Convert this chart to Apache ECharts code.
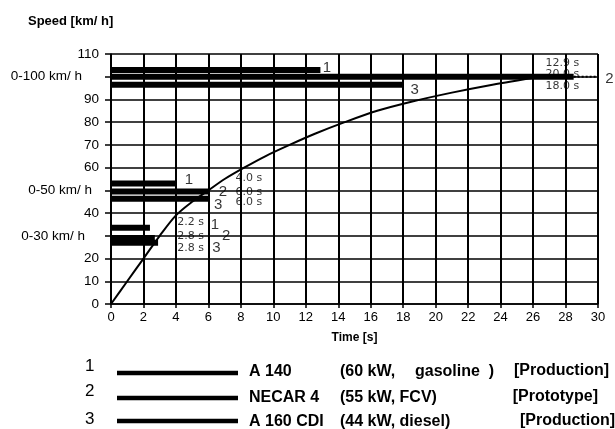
<!DOCTYPE html>
<html>
<head>
<meta charset="utf-8">
<script src="https://cdn.jsdelivr.net/npm/echarts@6/dist/echarts.min.js"></script>
<style>
  html, body { margin: 0; padding: 0; background: #fff; }
  #chart { width: 615px; height: 429px; }
</style>
</head>
<body>
<div id="chart"></div>
<script>
// axis labels that replace the plain numbers
const speedLabels = { 100: '0-100 km/ h', 50: '0-50 km/ h', 30: '0-30 km/ h' };

// NECAR 4 speed curve (time s / speed km/h)
const curveTime  = [0, 1.0, 2.0, 3.0, 4.0, 5.0, 6.0, 7.0, 8.2, 9.5, 11.0, 12.6, 14.4, 16.4, 18.5, 21.0, 23.5, 26.4];
const curveSpeed = [0, 10, 20, 30, 39, 45, 50, 55, 60, 65, 70, 75, 80, 85, 89, 93, 96.5, 100];

// vehicles 1,2,3
const carIds = ['1', '2', '3'];

// 0-100 bars
const bar100Level = [103, 100, 96.5];
const bar100End   = [12.9, 28.5, 18.0];
const bar100Text  = ['12.9 s', '20.0 s', '18.0 s'];
// 0-50 bars
const bar50Level = [53, 49.5, 46.3];
const bar50End   = [4.0, 6.0, 6.0];
const bar50Text  = ['4.0 s', '6.0 s', '6.0 s'];
// 0-30 bars
const bar30Level = [33.5, 29, 27];
const bar30End   = [2.4, 2.7, 2.9];
const bar30Text  = ['2.2 s', '2.8 s', '2.8 s'];

// legend rows
const legendNames  = ['A 140', 'NECAR 4', 'A 160 CDI'];
const legendSpecs  = ['(60 kW,', '(55 kW, FCV)', '(44 kW, diesel)'];
const legendStatus = ['[Production]', '[Prototype]', '[Production]'];

const chart = echarts.init(document.getElementById('chart'));

function barSeries(levels, ends) {
  return levels.map((lvl, i) => ({
    type: 'line',
    data: [[0, lvl], [ends[i], lvl]],
    symbol: 'none',
    silent: true,
    z: 4,
    lineStyle: { color: '#000', width: 6, cap: 'butt' }
  }));
}

// text notes placed in data space (label positions, not marks)
function notes(items, style) {
  return {
    type: 'scatter',
    symbolSize: 0,
    clip: false,
    silent: true,
    z: 6,
    data: items.map(it => ({
      value: [it[0], it[1]],
      label: {
        show: true, position: 'inside', formatter: it[2],
        color: '#000', fontFamily: style.family, fontSize: style.size
      }
    }))
  };
}

const numStyle  = { family: 'Liberation Sans', size: 15 };
const timeStyle = { family: 'DejaVu Sans', size: 11 };

const series = [
  {
    type: 'line',
    data: curveTime.map((t, i) => [t, curveSpeed[i]]),
    smooth: 0.3,
    symbol: 'none',
    silent: true,
    z: 5,
    lineStyle: { color: '#000', width: 2 }
  },
  ...barSeries(bar100Level, bar100End),
  ...barSeries(bar50Level, bar50End),
  ...barSeries(bar30Level, bar30End),
  {
    type: 'line',
    data: [[bar100End[1], bar100Level[1]], [30, bar100Level[1]]],
    symbol: 'none', silent: true, z: 4,
    lineStyle: { color: '#000', width: 2, type: 'dotted' }
  },
  notes([
    [13.3, 104, carIds[0]], [30.7, 99.2, carIds[1]], [18.7, 94.3, carIds[2]],
    [4.8, 54.6, carIds[0]], [6.9, 49.3, carIds[1]], [6.6, 43.6, carIds[2]],
    [6.4, 34.8, carIds[0]], [7.1, 30, carIds[1]], [6.5, 24.7, carIds[2]]
  ], numStyle),
  notes([
    [27.8, 106, bar100Text[0]], [27.8, 101, bar100Text[1]], [27.8, 96, bar100Text[2]],
    [8.5, 55.5, bar50Text[0]], [8.5, 49.3, bar50Text[1]], [8.5, 45, bar50Text[2]],
    [4.9, 36.1, bar30Text[0]], [4.9, 30, bar30Text[1]], [4.9, 24.7, bar30Text[2]]
  ], timeStyle)
];

// hand-drawn legend under the plot
const legendFont = 'bold 16px "Liberation Sans"';
const legendGraphics = [];
const numY  = [367, 392, 420];
const lineY = [373, 398, 421];
const textY = [372, 398, 422];
[0, 1, 2].forEach(i => {
  legendGraphics.push(
    { type: 'text', left: 85, top: numY[i] - 9, style: { text: carIds[i], font: '17px "Liberation Sans"', fill: '#000' } },
    { type: 'line', shape: { x1: 117, y1: lineY[i], x2: 238, y2: lineY[i] }, style: { stroke: '#000', lineWidth: 4.5 } },
    { type: 'text', left: 249, top: textY[i] - 8, style: { text: legendNames[i], font: legendFont, fill: '#000' } },
    { type: 'text', left: 340, top: textY[i] - 8, style: { text: legendSpecs[i], font: legendFont, fill: '#000' } },
    { type: 'text', right: [6, 17, 0][i], top: textY[i] - 9, style: { text: legendStatus[i], font: legendFont, fill: '#000' } }
  );
});
legendGraphics.push(
  { type: 'text', left: 415, top: textY[0] - 8, style: { text: 'gasoline  )', font: legendFont, fill: '#000' } }
);

chart.setOption({
  animation: false,
  backgroundColor: '#fff',
  title: {
    text: 'Speed [km/ h]',
    left: 23, top: 10,
    textStyle: { fontFamily: 'Liberation Sans', fontSize: 13, fontWeight: 'bold', color: '#000' }
  },
  grid: { left: 111, right: 17, top: 54, bottom: 125 },
  xAxis: {
    type: 'value',
    min: 0, max: 30, interval: 2,
    name: 'Time [s]',
    nameLocation: 'middle',
    nameGap: 28,
    nameTextStyle: { fontFamily: 'Liberation Sans', fontSize: 12, fontWeight: 'bold', color: '#000' },
    axisLine: { lineStyle: { color: '#000', width: 1.5 } },
    axisTick: { show: true, length: 4, lineStyle: { color: '#000', width: 1.5 } },
    axisLabel: { margin: 7, color: '#000', fontFamily: 'Liberation Sans', fontSize: 13 },
    splitLine: { show: true, lineStyle: { color: '#000', width: 2 } }
  },
  yAxis: {
    type: 'value',
    min: 0, max: 110, interval: 10,
    axisLine: { show: true, lineStyle: { color: '#000', width: 1.5 } },
    axisTick: { show: true, length: 6, lineStyle: { color: '#000', width: 1.5 } },
    axisLabel: {
      margin: 12, color: '#000', fontFamily: 'Liberation Sans', fontSize: 13.5,
      formatter: v => speedLabels[v] ? '{s' + v + '|' + speedLabels[v] + '}' : String(v),
      rich: {
        s100: { fontSize: 13.5, fontFamily: 'Liberation Sans', color: '#000', padding: [0, 17, 0, 0] },
        s50:  { fontSize: 13.5, fontFamily: 'Liberation Sans', color: '#000', padding: [0, 7, 0, 0] },
        s30:  { fontSize: 13.5, fontFamily: 'Liberation Sans', color: '#000', padding: [0, 14, 0, 0] }
      }
    },
    splitLine: { show: true, lineStyle: { color: '#000', width: 1.5 } }
  },
  graphic: legendGraphics,
  series: series
});
</script>
</body>
</html>
